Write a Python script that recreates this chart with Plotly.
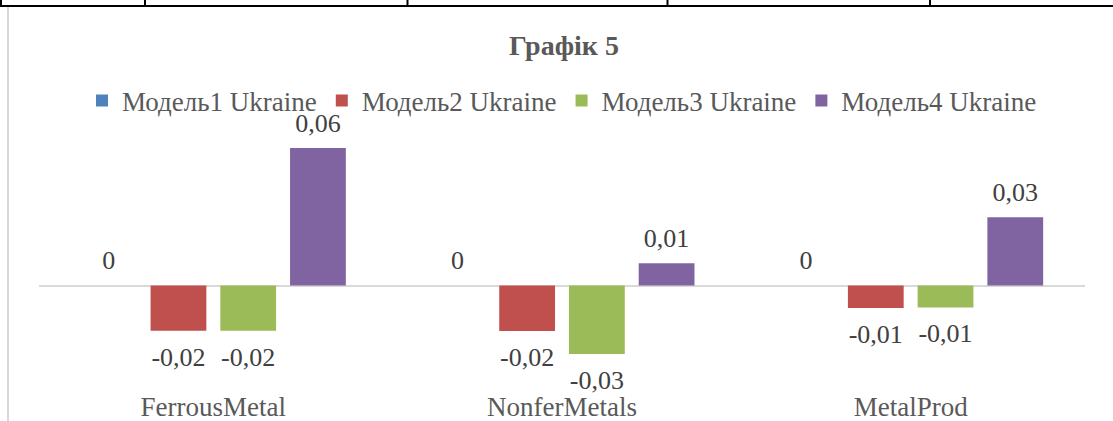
import plotly.graph_objects as go

# ---- data ----
categories = ["FerrousMetal", "NonferMetals", "MetalProd"]
series_names = ["Модель1 Ukraine", "Модель2 Ukraine", "Модель3 Ukraine", "Модель4 Ukraine"]
model1 = [0.0, 0.0, 0.0]
model2 = [-0.0199, -0.0200, -0.0099]
model3 = [-0.0199, -0.0301, -0.0097]
model4 = [0.0604, 0.0098, 0.0300]
title_text = "Графік 5"

series_values = [model1, model2, model3, model4]
colors = ["#4F81BD", "#C0504D", "#9BBB59", "#8064A2"]

W, H = 1113, 421
ml, mr, mt, mb = 39, 28, 120, 33
pw, ph = W - ml - mr, H - mt - mb
zero_px = 285.5
px_per_unit = 2277.0
y_top = (zero_px - mt) / px_per_unit
y_bot = -((H - mb) - zero_px) / px_per_unit

FONT = "Liberation Serif, Times New Roman, serif"
LABEL_SIZE = 26
TEXT_SIZE = 27


def fmt(v):
    r = round(v, 2)
    if r == 0:
        return "0"
    return f"{r:.2f}".replace(".", ",")


def px2x(px):
    return (px - ml) / pw


def py2y(py):
    return 1 - (py - mt) / ph


fig = go.Figure()

for i, (name, vals, col) in enumerate(zip(series_names, series_values, colors)):
    fig.add_trace(go.Bar(
        x=categories, y=vals, name=name,
        marker=dict(color=col, line=dict(width=0)),
        offsetgroup=str(i), hoverinfo="skip",
    ))

for i, vals in enumerate(series_values):
    fig.add_trace(go.Scatter(
        x=categories, y=vals, mode="markers+text",
        text=[fmt(v) for v in vals],
        textposition=["top center" if v >= 0 else "bottom center" for v in vals],
        marker=dict(size=[14 if v >= 0 else 23 for v in vals], opacity=0),
        textfont=dict(family=FONT, size=LABEL_SIZE, color="#404040"),
        offsetgroup=str(i), alignmentgroup="a", orientation="v",
        showlegend=False, hoverinfo="skip", cliponaxis=False,
    ))

shapes = [
    dict(type="line", xref="paper", yref="paper", x0=px2x(0), x1=px2x(W), y0=py2y(6), y1=py2y(6),
         line=dict(color="black", width=2)),
    dict(type="line", xref="paper", yref="paper", x0=px2x(8), x1=px2x(8), y0=py2y(7), y1=py2y(H),
         line=dict(color="#d9d9d9", width=2)),
]
for vx in [1, 145, 407.5, 667.5, 930]:
    shapes.append(dict(type="line", xref="paper", yref="paper", x0=px2x(vx), x1=px2x(vx),
                       y0=py2y(0), y1=py2y(7), line=dict(color="black", width=2)))

fig.update_layout(
    width=W, height=H,
    margin=dict(l=ml, r=mr, t=mt, b=mb, pad=0, autoexpand=False),
    paper_bgcolor="white", plot_bgcolor="white",
    barmode="group", bargap=0.2, bargroupgap=0.2,
    scattermode="group", scattergap=0.2,
    title=dict(text=title_text, x=564 / W, xanchor="center", xref="container",
               y=1 - 45 / H, yanchor="middle", yref="container",
               font=dict(family=FONT, size=28, color="#595959", weight="bold")),
    legend=dict(orientation="h", x=0.5, xanchor="center", xref="paper",
                y=1 - 101 / H, yanchor="middle", yref="container",
                font=dict(family=FONT, size=TEXT_SIZE, color="#595959"),
                bgcolor="rgba(0,0,0,0)", itemclick=False),
    xaxis=dict(showgrid=False, showline=False, ticks="", zeroline=False,
               tickfont=dict(family=FONT, size=TEXT_SIZE, color="#595959")),
    yaxis=dict(range=[y_bot, y_top], showgrid=False, showticklabels=False, ticks="",
               zeroline=True, zerolinecolor="#d9d9d9", zerolinewidth=2, showline=False),
    shapes=shapes,
    showlegend=True,
)

fig.write_html("out.html", config={"displayModeBar": False},
               post_script="document.body.style.margin='0';")
